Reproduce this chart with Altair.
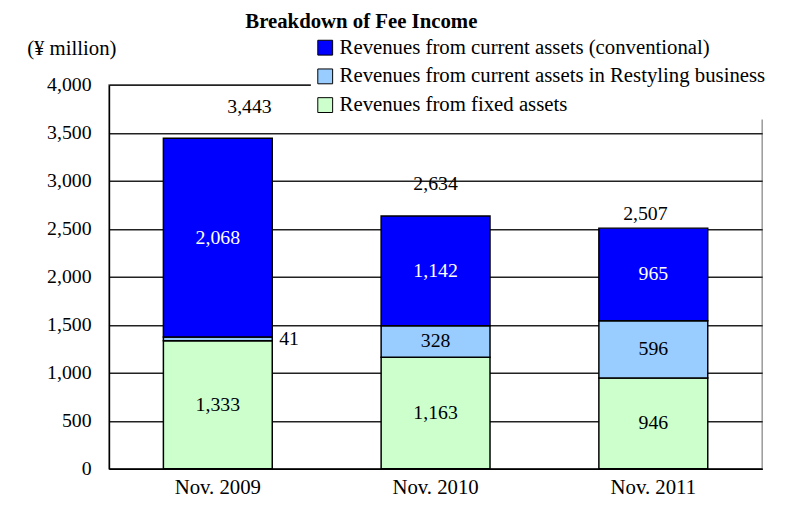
import altair as alt
import pandas as pd

years = ["Nov. 2009", "Nov. 2010", "Nov. 2011"]
series = [
    "Revenues from current assets (conventional)",
    "Revenues from current assets in Restyling business",
    "Revenues from fixed assets",
]
conventional = [2068, 1142, 965]
restyling = [41, 328, 596]
fixed = [1333, 1163, 946]
totals = [3443, 2634, 2507]
colors = ["#0000FF", "#99CCFF", "#CCFFCC"]
y_ticks = [0, 500, 1000, 1500, 2000, 2500, 3000, 3500, 4000]

rows = []
for i, yr in enumerate(years):
    for s, vals, order in ((series[2], fixed, 0), (series[1], restyling, 1), (series[0], conventional, 2)):
        rows.append({"year": yr, "series": s, "value": vals[i], "order": order})
df = pd.DataFrame(rows)
tot_df = pd.DataFrame({"year": years, "total": totals})

FONT = "Liberation Serif"
y_scale = alt.Scale(domain=[0, 4000], nice=False)
x_scale = alt.Scale(paddingInner=0.5, paddingOuter=0.25)

x_axis = alt.Axis(title=None, labelAngle=0, labelFontSize=21, labelFont=FONT, labelColor="black",
                  domainColor="black", domainWidth=1.5, ticks=False, labelPadding=8,
                  grid=False)
y_axis = alt.Axis(values=y_ticks, format=",.0f", title="(¥ million)", titleAngle=0,
                  titleX=-38, titleY=-37, titleAlign="center", titleBaseline="middle",
                  titleFont=FONT, titleFontSize=21, titleFontWeight="normal", titleColor="black",
                  labelFont=FONT, labelFontSize=20, labelColor="black", labelPadding=18,
                  ticks=False, domainColor="black", domainWidth=1.5,
                  grid=True, gridColor="#222222", gridWidth=1.5, gridOpacity=1)


def xenc():
    return alt.X("year:N", sort=years, title=None, scale=x_scale, axis=x_axis)


def yenc(field):
    return alt.Y(field, scale=y_scale, axis=y_axis, title="(¥ million)")


bars = alt.Chart(df).mark_bar(stroke="black", strokeWidth=1.5).encode(
    x=xenc(),
    y=alt.Y("value:Q", stack="zero", scale=y_scale, axis=y_axis, title="(¥ million)"),
    color=alt.Color(
        "series:N",
        scale=alt.Scale(domain=series, range=colors),
        legend=alt.Legend(title=None, orient="none", legendX=204, legendY=-52,
                          fillColor="white", padding=4, symbolType="square",
                          symbolSize=225, symbolStrokeColor="black", symbolStrokeWidth=1,
                          symbolOpacity=1, labelFont=FONT, labelFontSize=21,
                          labelColor="black", rowPadding=7, labelOffset=4, labelLimit=600),
    ),
    order=alt.Order("order:Q", sort="ascending"),
)

seg = alt.Chart(df).transform_stack(
    stack="value", groupby=["year"], as_=["v0", "v1"],
    sort=[alt.SortField("order", order="ascending")],
).transform_calculate(mid="(datum.v0 + datum.v1) / 2")

seg_main = seg.transform_filter("datum.value >= 100").mark_text(
    font=FONT, fontSize=20, baseline="middle"
).encode(
    x=xenc(),
    y=yenc("mid:Q"),
    text=alt.Text("value:Q", format=",.0f"),
    color=alt.condition("datum.order == 2", alt.value("white"), alt.value("black")),
)

seg_small = seg.transform_filter("datum.value < 100").mark_text(
    font=FONT, fontSize=20, baseline="middle", align="left", dx=62, color="black"
).encode(
    x=xenc(),
    y=yenc("mid:Q"),
    text=alt.Text("value:Q", format=",.0f"),
)

offsets = {"Nov. 2009": (32, -32), "Nov. 2010": (0, -32), "Nov. 2011": (-8, -14)}
total_layers = []
for yr, (dx, dy) in offsets.items():
    total_layers.append(
        alt.Chart(tot_df).transform_filter(alt.datum.year == yr).mark_text(
            font=FONT, fontSize=20, baseline="middle", dx=dx, dy=dy, color="black"
        ).encode(
            x=xenc(),
            y=yenc("total:Q"),
            text=alt.Text("total:Q", format=",.0f"),
        )
    )

chart = alt.layer(bars, seg_main, seg_small, *total_layers).properties(
    width=660,
    height=388,
    autosize=alt.AutoSizeParams(type="none"),
    padding={"left": 102, "top": 75, "right": 18, "bottom": 37},
    title=alt.TitleParams("Breakdown of Fee Income", font=FONT, fontSize=21,
                          fontWeight="bold", color="black", anchor="middle",
                          frame="group", dx=-75, dy=3),
    background="white",
).configure_view(stroke="#999999", strokeWidth=1.5)

chart.save("out.html", embed_options={"renderer": "svg", "actions": False})
